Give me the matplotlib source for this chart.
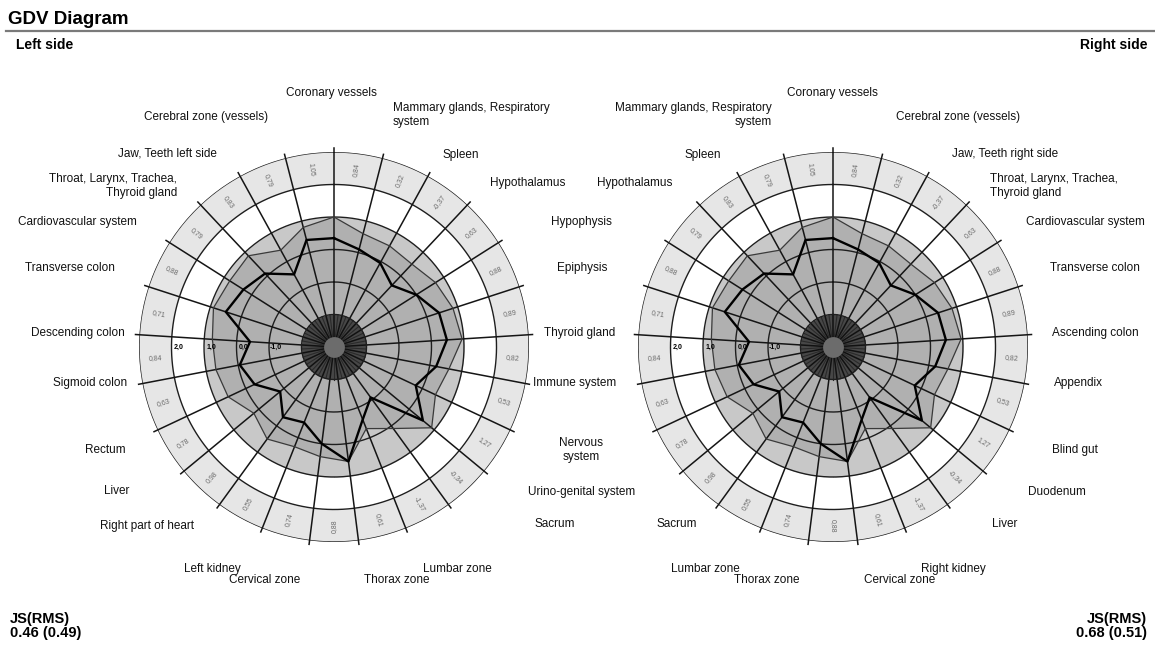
import numpy as np
import matplotlib
matplotlib.use("Agg")
import matplotlib.pyplot as plt

plt.rcParams["font.family"] = ["Liberation Sans", "DejaVu Sans"]

W, H = 1155, 648
N = 25

# ---- data: left side, sectors clockwise from the top ----
left_names = [
    "Coronary vessels", "Mammary glands, Respiratory\nsystem", "Spleen", "Hypothalamus",
    "Hypophysis", "Epiphysis", "Thyroid gland", "Immune system", "Nervous\nsystem",
    "Urino-genital system", "Sacrum", "Lumbar zone", "Thorax zone", "Cervical zone",
    "Left kidney", "Right part of heart", "Liver", "Rectum", "Sigmoid colon",
    "Descending colon", "Transverse colon", "Cardiovascular system",
    "Throat, Larynx, Trachea,\nThyroid gland", "Jaw, Teeth left side", "Cerebral zone (vessels)",
]
left_line = [0.35, 0.1, -0.05, -0.4, 0.0, 0.4, 0.48, 0.2, -0.22, 0.55, -1.08, -0.6, 0.55,
             0.0, -0.5, -0.33, -0.85, -0.3, -0.05, -0.41, 0.5, 0.3, 0.1, -0.45, 0.4]
left_area = [1.0, 0.6, 0.55, 0.5, 0.7, 0.85, 0.95, 0.6, 0.45, 0.9, 0.1, -0.3, 0.55,
             0.4, 0.3, 0.5, 0.2, 0.6, 0.7, 0.75, 0.9, 0.8, 0.85, 0.4, 0.8]
left_sector_vals = ["0,84", "0,32", "-0,37", "0,63", "0,88", "0,89", "0,82", "0,53", "1,27",
                    "-0,34", "-1,37", "0,61", "0,88", "0,74", "0,55", "0,98", "0,78", "0,63",
                    "0,84", "0,71", "0,88", "0,79", "0,83", "0,79", "1,05"]

# ---- data: right side, sectors counter-clockwise from the top ----
right_names = [
    "Coronary vessels", "Mammary glands, Respiratory\nsystem", "Spleen", "Hypothalamus",
    None, None, None, None, None, None,
    "Sacrum", "Lumbar zone", "Thorax zone", "Cervical zone", "Right kidney", "Liver",
    "Duodenum", "Blind gut", "Appendix", "Ascending colon", "Transverse colon",
    "Cardiovascular system", "Throat, Larynx, Trachea,\nThyroid gland",
    "Jaw, Teeth right side", "Cerebral zone (vessels)",
]
right_line = [0.35, 0.4, -0.45, 0.1, 0.3, 0.5, -0.41, -0.05, -0.3, -0.85, -0.33, -0.5, 0.0,
              0.55, -0.6, -1.08, 0.55, -0.22, 0.2, 0.48, 0.4, 0.0, -0.4, -0.05, 0.1]
right_area = [1.0, 0.8, 0.4, 0.85, 0.8, 0.9, 0.75, 0.7, 0.6, 0.2, 0.5, 0.3, 0.4, 0.55,
              -0.3, 0.1, 0.9, 0.45, 0.6, 0.95, 0.85, 0.7, 0.5, 0.55, 0.6]
right_sector_vals = ["1,05", "0,79", "0,83", "0,79", "0,88", "0,71", "0,84", "0,63", "0,78",
                     "0,98", "0,55", "0,74", "0,88", "0,61", "-1,37", "-0,34", "1,27", "0,53",
                     "0,82", "0,89", "0,88", "0,63", "-0,37", "0,32", "0,84"]

scale_ticks = [2.0, 1.0, 0.0, -1.0]
scale_labels = ["2,0", "1,0", "0,0", "-1,0"]

left_js = "JS(RMS)\n0.46 (0.49)"
right_js = "JS(RMS)\n0.68 (0.51)"

# ---- layout (pixels) ----
R_PX = 195
left_center = (334, 347)
right_center = (833, 347)
left_label_pos = [
    (331, 93, "center"), (393, 115, "left"), (461, 155, "center"), (528, 183, "center"),
    (581, 222, "center"), (582, 268, "center"), (580, 333, "center"), (575, 383, "center"),
    (581, 450, "center"), (582, 492, "center"), (555, 524, "center"), (457, 569, "center"),
    (397, 580, "center"), (265, 580, "center"), (212, 569, "center"), (147, 526, "center"),
    (117, 491, "center"), (105, 450, "center"), (90, 383, "center"), (78, 333, "center"),
    (70, 268, "center"), (77, 222, "center"), (177, 186, "right"), (167, 154, "center"),
    (206, 117, "center"),
]
right_label_pos = [
    (832, 93, "center"), (772, 115, "right"), (703, 155, "center"), (635, 183, "center"),
    None, None, None, None, None, None,
    (677, 524, "center"), (705, 569, "center"), (767, 580, "center"), (900, 580, "center"),
    (953, 569, "center"), (1005, 524, "center"), (1057, 492, "center"), (1075, 450, "center"),
    (1078, 383, "center"), (1095, 333, "center"), (1095, 268, "center"), (1085, 222, "center"),
    (990, 186, "left"), (1005, 154, "center"), (958, 117, "center"),
]

fig = plt.figure(figsize=(W / 100, H / 100), dpi=100)
bg = fig.add_axes([0, 0, 1, 1])
bg.set_xlim(0, W)
bg.set_ylim(H, 0)
bg.axis("off")

bg.text(8, 19, "GDV Diagram", fontsize=13.5, fontweight="bold", va="center", ha="left")
bg.plot([6, W], [31, 31], color="#7a7a7a", lw=1.6)
bg.text(16, 45, "Left side", fontsize=10, fontweight="bold", va="center", ha="left")
bg.text(1147, 45, "Right side", fontsize=10, fontweight="bold", va="center", ha="right")
bg.text(10, 626, left_js, fontsize=10.5, fontweight="bold", va="center", ha="left",
        linespacing=1.05)
bg.text(1147, 626, right_js, fontsize=10.5, fontweight="bold", va="center", ha="right",
        linespacing=1.05, multialignment="right")

for names, pos in [(left_names, left_label_pos), (right_names, right_label_pos)]:
    for name, p in zip(names, pos):
        if name is None:
            continue
        x, y, ha = p
        bg.text(x, y, name, fontsize=8.5, ha=ha, va="center", multialignment=ha,
                linespacing=1.2, color="#111111")


def draw_diagram(center, direction, line_vals, area_vals, sector_vals):
    cx, cy = center
    ax = fig.add_axes([(cx - R_PX) / W, (H - cy - R_PX) / H, 2 * R_PX / W, 2 * R_PX / H],
                      projection="polar")
    ax.set_theta_zero_location("N")
    ax.set_theta_direction(direction)
    ax.set_ylim(-3, 3)
    ax.set_axis_off()

    step = 2 * np.pi / N
    theta = np.arange(N) * step
    fine = np.linspace(0, 2 * np.pi, 400)

    # background rings
    ax.fill_between(fine, 2, 3, color="#e6e6e6", lw=0, zorder=0)
    ax.fill_between(fine, 1, 2, color="white", lw=0, zorder=0)
    ax.fill_between(fine, -2, 1, color="#c8c8c8", lw=0, zorder=0)

    # measured area
    t_closed = np.append(theta, theta[0])
    a_closed = np.append(area_vals, area_vals[0])
    ax.fill(t_closed, a_closed, color="#b0b0b0", lw=0, zorder=1)
    ax.plot(t_closed, a_closed, color="#3a3a3a", lw=0.9, zorder=3)

    # grid circles and spokes
    for r in [-1, 0, 1, 2, 3]:
        ax.plot(fine, np.full_like(fine, r), color="#1e1e1e", lw=1.0, zorder=2)
    for t in theta:
        ax.plot([t, t], [-3, 3.12], color="#151515", lw=1.1, zorder=2, clip_on=False)

    # dark centre
    ax.fill_between(fine, -3, -2, color="#474747", lw=0, zorder=4)
    for t in theta + step / 2:
        ax.plot([t, t], [-3, -2], color="#2a2a2a", lw=0.8, zorder=4)
    for t in theta:
        ax.plot([t, t], [-3, -2], color="#111111", lw=1.1, zorder=4)
    ax.plot(fine, np.full_like(fine, -2), color="#1e1e1e", lw=1.0, zorder=4)
    ax.fill_between(fine, -3, -2.68, color="#6c6c6c", lw=0, zorder=5)

    # profile line
    l_closed = np.append(line_vals, line_vals[0])
    ax.plot(t_closed, l_closed, color="black", lw=1.7, zorder=6)

    # sector values in the outer band
    for t, s in zip(theta, sector_vals):
        tm = t + step / 2
        phi = 90 + direction * np.degrees(tm)
        phi = (phi + 180) % 360 - 180
        rot = phi if -90 <= phi <= 90 else phi - 180
        ax.text(tm, 2.5, s, fontsize=5, color="#6a6a6a", ha="center", va="center",
                rotation=rot, rotation_mode="anchor", zorder=7)

    # scale labels along the left horizontal
    west = 1.5 * np.pi if direction == -1 else 0.5 * np.pi
    for v, s in zip(scale_ticks, scale_labels):
        ax.text(west, v - 0.22, s, fontsize=5, fontweight="bold", ha="center",
                va="center", zorder=7)


draw_diagram(left_center, -1, left_line, left_area, left_sector_vals)
draw_diagram(right_center, 1, right_line, right_area, right_sector_vals)

fig.savefig("out.png", dpi=100, facecolor="white")
